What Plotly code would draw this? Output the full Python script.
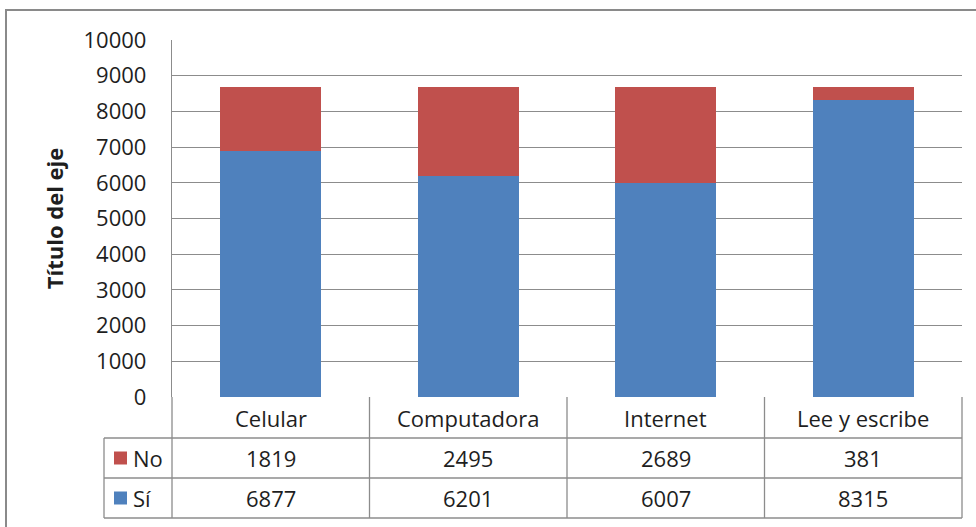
import plotly.graph_objects as go

categories = ["Celular", "Computadora", "Internet", "Lee y escribe"]
series_names = ["No", "Sí"]
no_values = [1819, 2495, 2689, 381]
si_values = [6877, 6201, 6007, 8315]
y_ticks = [0, 1000, 2000, 3000, 4000, 5000, 6000, 7000, 8000, 9000, 10000]

W, H = 976, 527
L, R, T, B = 172, 962, 40, 397  # plot area in px
BLUE = "#4F81BD"
RED = "#C0504D"
GRID = "#8C8C8C"
TXT = "#1E1E1E"
FONT = "Open Sans"
FS = 22


def px(x):
    return (x - L) / (R - L)


def py(y):
    return (B - y) / (B - T)


fig = go.Figure()
fig.add_trace(go.Bar(x=categories, y=si_values, name=series_names[1],
                     marker=dict(color=BLUE, line=dict(width=0))))
fig.add_trace(go.Bar(x=categories, y=no_values, name=series_names[0],
                     marker=dict(color=RED, line=dict(width=0))))

shapes = []
line = dict(color=GRID, width=1.3)
# outer chart border
shapes.append(dict(type="rect", xref="paper", yref="paper",
                   x0=px(6), x1=px(995), y0=py(545), y1=py(10),
                   line=dict(color="#8A8A8A", width=2), fillcolor="rgba(0,0,0,0)", layer="below"))
# table rows
for yy in [438, 478, 518]:
    shapes.append(dict(type="line", xref="paper", yref="paper",
                       x0=px(104), x1=px(R), y0=py(yy), y1=py(yy), line=line))
# table left border (legend column)
shapes.append(dict(type="line", xref="paper", yref="paper",
                   x0=px(104), x1=px(104), y0=py(438), y1=py(518), line=line))
# column separators (incl. left axis extension)
n = len(categories)
for i in range(n + 1):
    shapes.append(dict(type="line", xref="paper", yref="paper",
                       x0=i / n, x1=i / n, y0=py(518), y1=py(B), line=line))
# legend keys
for yy, col in [(458, RED), (498, BLUE)]:
    shapes.append(dict(type="rect", xref="paper", yref="paper",
                       x0=px(114), x1=px(127), y0=py(yy - 6.5), y1=py(yy + 6.5),
                       fillcolor=col, line=dict(width=0)))

font = dict(family=FONT, size=FS, color=TXT)
annotations = []
for i, c in enumerate(categories):
    for yy, txt in [(418, c), (458, str(no_values[i])), (498, str(si_values[i]))]:
        annotations.append(dict(x=c, xref="x", y=py(yy), yref="paper", text=txt,
                                xanchor="center", yanchor="middle",
                                showarrow=False, font=font))
for yy, name in [(458, series_names[0]), (498, series_names[1])]:
    annotations.append(dict(x=px(131), xref="paper", xanchor="left", y=py(yy), yref="paper",
                            yanchor="middle", text=name, showarrow=False, font=font))

fig.update_layout(
    width=W, height=H,
    margin=dict(l=L, r=W - R, t=T, b=H - B, pad=0),
    barmode="stack",
    bargap=0.49,
    showlegend=False,
    plot_bgcolor="white",
    paper_bgcolor="white",
    font=font,
    shapes=shapes,
    annotations=annotations,
    xaxis=dict(showticklabels=False, showgrid=False, zeroline=False,
               showline=False, ticks="", range=[-0.5, 3.5]),
    yaxis=dict(range=[0, 10000], tickvals=y_ticks, ticktext=[str(v) for v in y_ticks],
               showgrid=True, gridcolor=GRID,
               gridwidth=1.3, zeroline=False, showline=True, linecolor=GRID, linewidth=1.3,
               ticks="", ticklabelstandoff=20,
               tickfont=font,
               title=dict(text="<b>Título del eje</b>", standoff=13, font=font)),
)

fig.write_html("out.html", config={"displayModeBar": False},
               post_script="document.body.style.margin='0px';")
